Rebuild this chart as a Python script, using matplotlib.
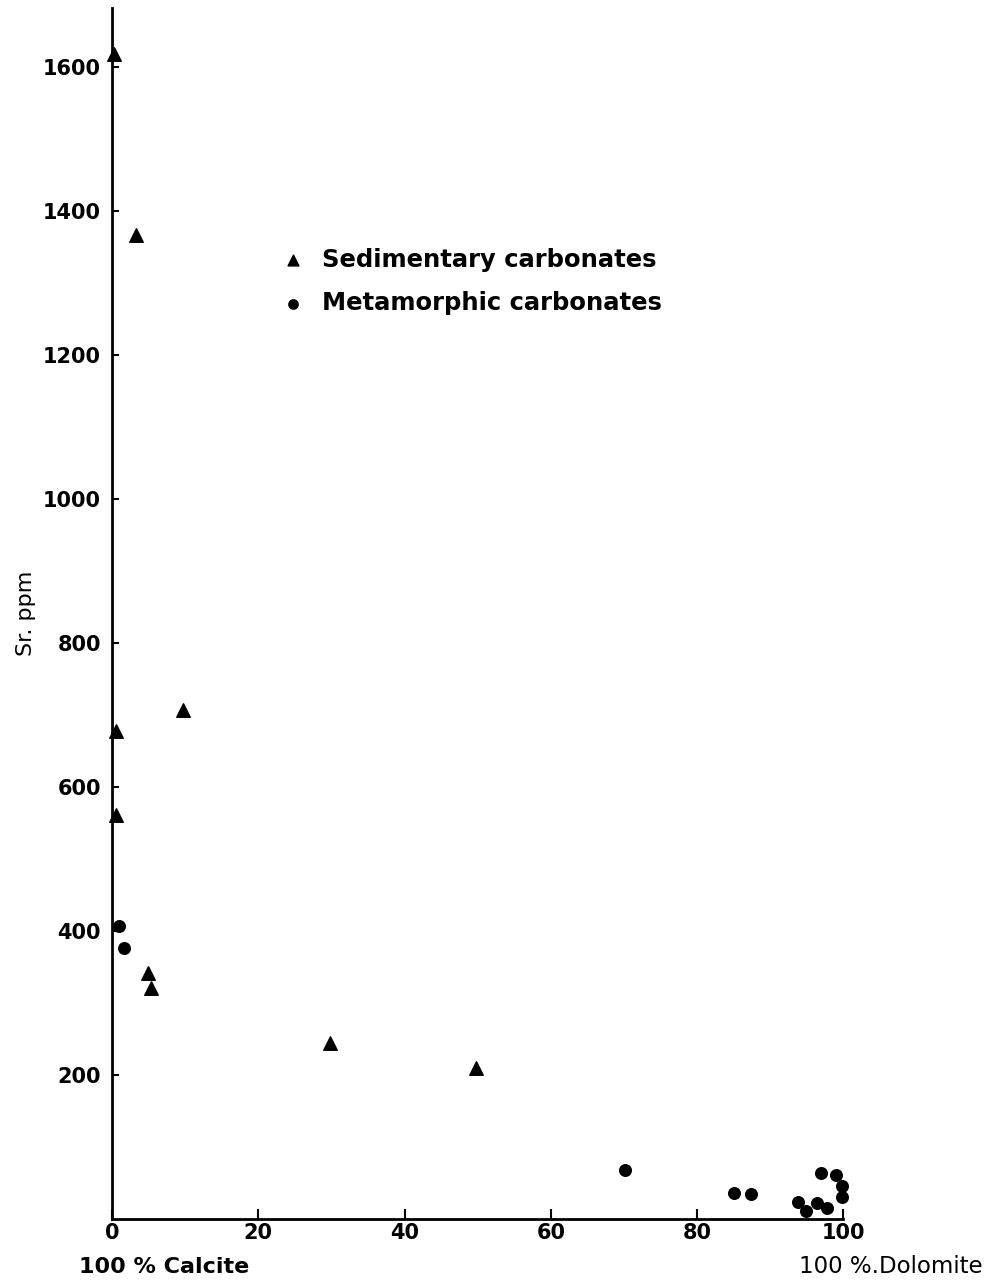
import matplotlib
matplotlib.use("Agg")
import matplotlib.pyplot as plt

# Sedimentary carbonates (triangles): % dolomite vs Sr ppm
sed_dol = [0.3, 3.3, 0.5, 0.5, 9.7, 4.9, 5.3, 29.8, 49.8]
sed_sr = [1618, 1367, 678, 561, 707, 342, 321, 244, 210]

# Metamorphic carbonates (dots)
met_dol = [1.0, 1.6, 70.2, 85.1, 87.4, 93.8, 94.9, 96.4, 97.8, 96.9, 99.0, 99.9, 99.9]
met_sr = [407, 376, 68, 36, 35, 24, 12, 22, 15, 64, 61, 46, 31]

xticks = [0, 20, 40, 60, 80, 100]
yticks = [200, 400, 600, 800, 1000, 1200, 1400, 1600]

plt.rcParams['font.family'] = ['DejaVu Sans']

fig = plt.figure(figsize=(9.92, 12.82), dpi=100)
ax = fig.add_axes([0.113, 0.049, 0.737, 0.945])

ax.scatter(sed_dol, sed_sr, marker='^', s=95, color='black', clip_on=False,
           zorder=3, label='Sedimentary carbonates')
ax.scatter(met_dol, met_sr, marker='o', s=70, color='black', clip_on=False,
           zorder=3, label='Metamorphic carbonates')

ax.set_xlim(0, 100)
ax.set_ylim(0, 1682)
ax.set_xticks(xticks)
ax.set_yticks(yticks)
ax.tick_params(direction='in', width=1.5, labelsize=15)
ax.tick_params(axis='y', length=5, pad=8)
ax.tick_params(axis='x', length=7, pad=3)
for lab in ax.get_xticklabels() + ax.get_yticklabels():
    lab.set_fontweight('bold')

for s in ['top', 'right']:
    ax.spines[s].set_visible(False)
for s in ['left', 'bottom']:
    ax.spines[s].set_linewidth(2)

ax.set_ylabel('Sr. ppm', fontsize=16)
ax.yaxis.set_label_coords(-0.104, 0.5)

fig.text(0.08, 0.012, '100 % Calcite', fontsize=16, fontweight='bold', ha='left', va='center')
fig.text(0.805, 0.012, '100 %.Dolomite', fontsize=16.5, ha='left', va='center')

leg = ax.legend(loc='center left', bbox_to_anchor=(0.184, 0.774), frameon=False,
                prop={'size': 17.5, 'weight': 'bold'}, handletextpad=0.2,
                labelspacing=0.8, markerscale=0.8)

fig.savefig('out.png', dpi=100)
